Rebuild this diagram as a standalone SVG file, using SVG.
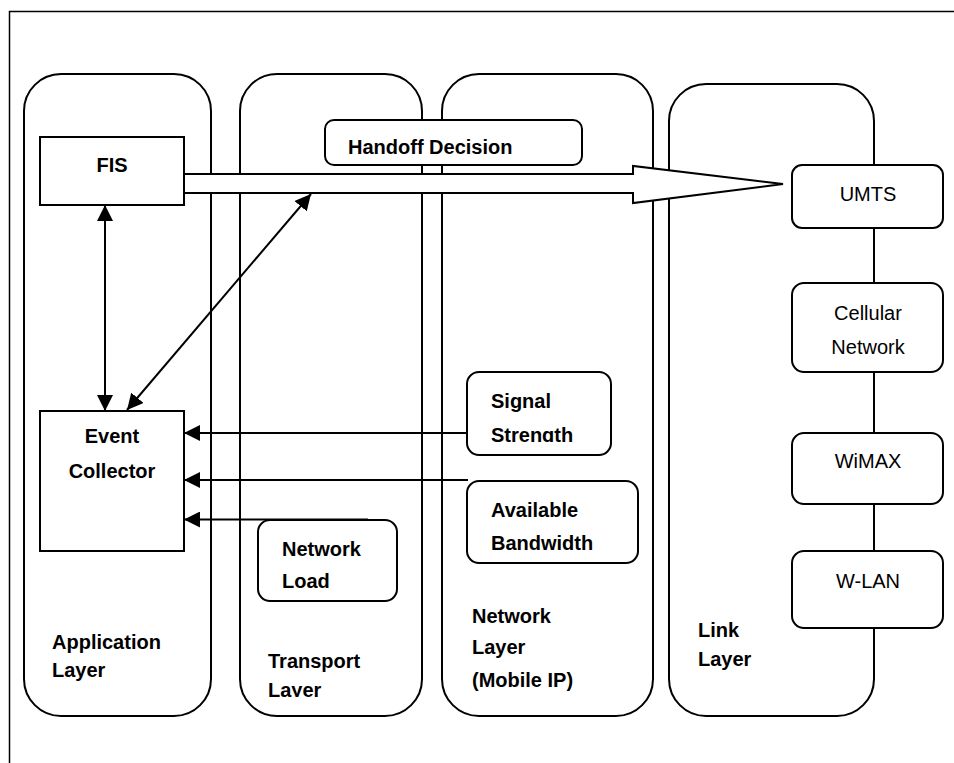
<svg xmlns="http://www.w3.org/2000/svg" width="954" height="763" viewBox="0 0 954 763">
<style>
.ln{fill:none;stroke:#000;stroke-width:2}
.box{fill:#fff;stroke:#000;stroke-width:2}
.lay{fill:#fff;stroke:#000;stroke-width:2}
.b{font-family:"Liberation Sans",Arial,sans-serif;font-weight:bold;font-size:20px;fill:#000}
.r{font-family:"Liberation Sans",Arial,sans-serif;font-size:20px;fill:#000}
.c{text-anchor:middle}
</style>
<defs>
<marker id="ah" markerUnits="userSpaceOnUse" markerWidth="16" markerHeight="16" refX="16" refY="8" orient="auto-start-reverse">
<path d="M0,0 L16,8 L0,16 z" fill="#000"/>
</marker>
<clipPath id="clipSig"><rect x="460" y="360" width="160" height="82"/></clipPath>
<clipPath id="clipLoad"><rect x="250" y="520" width="160" height="68"/></clipPath>
<clipPath id="clipTr"><rect x="240" y="600" width="180" height="97"/></clipPath>
</defs>
<rect id="frame" x="9.5" y="11.5" width="980" height="800" fill="#fff" stroke="#000" stroke-width="1.5"/>
<g id="layer-application"><rect class="lay" x="24" y="74" width="187" height="642" rx="37" ry="37"/>
<text class="b" x="52" y="649">Application</text><text class="b" x="52" y="677">Layer</text></g>
<g id="layer-transport"><rect class="lay" x="240" y="74" width="182" height="642" rx="37" ry="37"/>
<g clip-path="url(#clipTr)"><text class="b" x="268" y="668">Transport</text><text class="b" x="268" y="697">Layer</text></g></g>
<g id="layer-network"><rect class="lay" x="442" y="74" width="211" height="642" rx="37" ry="37"/>
<text class="b" x="472" y="623">Network</text><text class="b" x="472" y="654">Layer</text><text class="b" x="472" y="687">(Mobile IP)</text></g>
<g id="layer-link"><rect class="lay" x="669" y="84" width="205" height="632" rx="37" ry="37"/>
<text class="b" x="698" y="637">Link</text><text class="b" x="698" y="666">Layer</text></g>
<g id="handoff-arrow"><path class="box" d="M184,174 L633,174 L633,166 L783,184 L633,203 L633,193 L184,193 z"/></g>
<g id="handoff-decision"><rect class="box" x="325" y="120" width="257" height="45" rx="9" ry="9"/>
<text class="b" x="348" y="154">Handoff Decision</text></g>
<g id="fis"><rect class="box" x="40" y="137" width="144" height="68"/>
<text class="b c" x="112" y="172">FIS</text></g>
<g id="event-collector"><rect class="box" x="40" y="411" width="144" height="140"/>
<text class="b c" x="112" y="443">Event</text><text class="b c" x="112" y="478">Collector</text></g>
<g id="signal-strength"><rect class="box" x="467" y="372" width="144" height="83" rx="12" ry="12"/>
<g clip-path="url(#clipSig)"><text class="b" x="491" y="408">Signal</text><text class="b" x="491" y="442">Strength</text></g></g>
<g id="available-bandwidth"><rect class="box" x="467" y="481" width="171" height="82" rx="12" ry="12"/>
<text class="b" x="491" y="517">Available</text><text class="b" x="491" y="550">Bandwidth</text></g>
<g id="network-load"><rect class="box" x="258" y="520" width="139" height="81" rx="12" ry="12"/>
<g clip-path="url(#clipLoad)"><text class="b" x="282" y="556">Network</text><text class="b" x="282" y="588">Load</text></g></g>
<g id="umts"><rect class="box" x="792" y="165" width="151" height="63" rx="10" ry="10"/>
<text class="r c" x="868" y="201">UMTS</text></g>
<g id="cellular"><rect class="box" x="792" y="283" width="151" height="89" rx="12" ry="12"/>
<text class="r c" x="868" y="320">Cellular</text><text class="r c" x="868" y="354">Network</text></g>
<g id="wimax"><rect class="box" x="792" y="433" width="151" height="71" rx="12" ry="12"/>
<text class="r c" x="868" y="468">WiMAX</text></g>
<g id="wlan"><rect class="box" x="792" y="551" width="151" height="77" rx="12" ry="12"/>
<text class="r c" x="868" y="588">W-LAN</text></g>
<g id="connectors">
<line class="ln" x1="105" y1="205" x2="105" y2="411" marker-start="url(#ah)" marker-end="url(#ah)"/>
<line class="ln" x1="127" y1="410" x2="311" y2="194" marker-start="url(#ah)" marker-end="url(#ah)"/>
<line class="ln" x1="467" y1="433" x2="184" y2="433" marker-end="url(#ah)"/>
<line class="ln" x1="468" y1="480" x2="184" y2="480" marker-end="url(#ah)"/>
<line class="ln" x1="368" y1="519.5" x2="184" y2="519.5" marker-end="url(#ah)"/>
</g>
</svg>
